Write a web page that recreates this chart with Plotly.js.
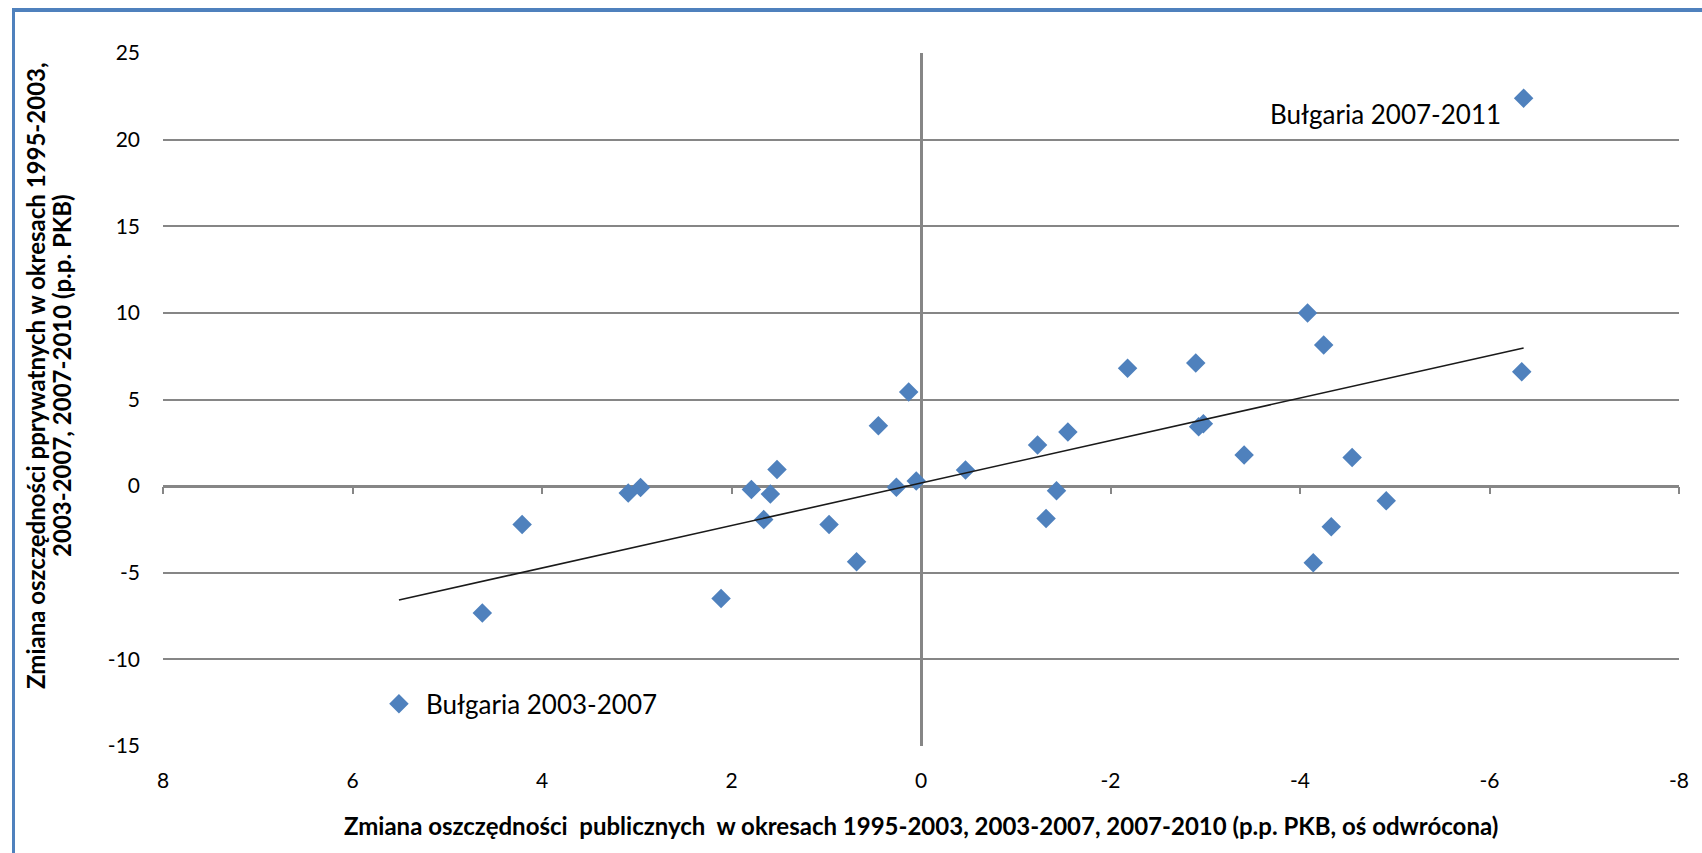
<!DOCTYPE html>
<html>
<head>
<meta charset="utf-8">
<script src="https://cdn.plot.ly/plotly-3.0.1.min.js"></script>
<style>
  html, body { margin: 0; padding: 0; background: #ffffff; }
  #wrap { position: relative; width: 1702px; height: 853px; overflow: hidden; }
  #chart { position: absolute; left: 0; top: 0; width: 1702px; height: 853px; }
  #frame { position: absolute; left: 12px; top: 8px; width: 1800px; height: 1000px;
           border-top: 4px solid #4F81BD; border-left: 3px solid #4F81BD; pointer-events: none; }
</style>
</head>
<body>
<div id="wrap">
  <div id="chart"></div>
  <div id="frame"></div>
</div>
<script>
// Change in public savings (p.p. GDP, reversed axis) and private savings (p.p. GDP)
const countryX = [-4.08, -4.25, -2.90, -2.18, -6.34, 0.13, 0.45, -2.98, -2.93, -1.55,
                  -1.23, -3.41, -4.55, 1.52, -0.47, 0.05, 0.26, 2.96, 3.09, 1.79,
                  1.59, -1.43, -4.91, 4.21, 0.97, -4.33, -1.32, 1.66, 0.68, -4.14,
                  2.11, 4.63];
const countryY = [10.00, 8.14, 7.10, 6.80, 6.60, 5.43, 3.48, 3.60, 3.42, 3.13,
                  2.37, 1.79, 1.65, 0.96, 0.93, 0.30, -0.06, -0.08, -0.39, -0.19,
                  -0.46, -0.27, -0.85, -2.21, -2.21, -2.35, -1.87, -1.92, -4.36, -4.42,
                  -6.48, -7.32];

const bulgariaLabels = ["Bułgaria 2007-2011", "Bułgaria 2003-2007"];
const bulgariaX = [-6.36, 5.51];
const bulgariaY = [22.39, -12.56];

const xTickVals = [8, 6, 4, 2, 0, -2, -4, -6, -8];
const yTickVals = [25, 20, 15, 10, 5, 0, -5, -10, -15];

const xTitle = "Zmiana oszczędności\u00a0 publicznych\u00a0 w okresach 1995-2003, 2003-2007, 2007-2010 (p.p. PKB, oś odwrócona)";
const yTitleLines = ["Zmiana oszczędności pprywatnych w okresach 1995-2003,",
                     "2003-2007, 2007-2010 (p.p. PKB)"];

// Linear trend (least squares) over all points
const allX = countryX.concat(bulgariaX);
const allY = countryY.concat(bulgariaY);
const n = allX.length;
const mx = allX.reduce((a, b) => a + b, 0) / n;
const my = allY.reduce((a, b) => a + b, 0) / n;
let sxx = 0, sxy = 0;
for (let i = 0; i < n; i++) { sxx += (allX[i] - mx) ** 2; sxy += (allX[i] - mx) * (allY[i] - my); }
const slope = sxy / sxx;
const intercept = my - slope * mx;
const xMin = Math.min(...allX), xMax = Math.max(...allX);
const trendX = [xMax, xMin];
const trendY = trendX.map(v => intercept + slope * v);

const blue = "#4F81BD";
const grid = "#868686";
const fontFam = "Lato, 'Open Sans', sans-serif";

const xRange = [8, -8];
const yRange = [-15, 25];
const zeroPos = (0 - yRange[0]) / (yRange[1] - yRange[0]);

const traces = [
  { type: "scatter", mode: "markers", x: countryX, y: countryY, xaxis: "x", yaxis: "y",
    marker: { symbol: "diamond", size: 15, color: blue }, hoverinfo: "x+y" },
  { type: "scatter", mode: "markers", x: bulgariaX, y: bulgariaY, xaxis: "x", yaxis: "y",
    marker: { symbol: "diamond", size: 15, color: blue }, text: bulgariaLabels, hoverinfo: "text" },
  { type: "scatter", mode: "lines", x: trendX, y: trendY, xaxis: "x2", yaxis: "y",
    line: { color: "#1a1a1a", width: 1.6 }, hoverinfo: "skip" }
];

const layout = {
  width: 1702, height: 853,
  margin: { l: 163, r: 23, t: 53, b: 107 },
  paper_bgcolor: "#ffffff", plot_bgcolor: "#ffffff",
  showlegend: false,
  font: { family: fontFam, color: "#000000", size: 21 },
  xaxis: {
    range: xRange, tickvals: xTickVals, ticktext: xTickVals.map(String),
    showgrid: false, zeroline: true, zerolinecolor: grid, zerolinewidth: 2.5,
    showline: false, ticks: "", ticklabelstandoff: 20,
    tickfont: { family: fontFam, size: 21, color: "#000" }
  },
  xaxis2: {
    range: xRange, overlaying: "x", anchor: "free", position: zeroPos,
    tickvals: xTickVals, showticklabels: false, ticks: "outside", ticklen: 7,
    tickwidth: 2, tickcolor: grid, showgrid: false, zeroline: false, showline: false
  },
  yaxis: {
    range: yRange, tickvals: yTickVals, ticktext: yTickVals.map(String),
    showgrid: true, gridcolor: grid, gridwidth: 2,
    zeroline: true, zerolinecolor: grid, zerolinewidth: 2.5,
    showline: false, ticks: "", ticklabelstandoff: 22,
    tickfont: { family: fontFam, size: 21, color: "#000" }
  },
  annotations: [
    { xref: "paper", yref: "paper", x: 0.5, y: -0.114, xanchor: "center", yanchor: "middle",
      text: "<b>" + xTitle + "</b>", showarrow: false,
      font: { family: fontFam, size: 24, color: "#000" } },
    { xref: "paper", yref: "paper", x: 0, y: 0.534, xshift: -127, xanchor: "center", yanchor: "middle",
      text: "<b>" + yTitleLines[0] + "</b>", textangle: -90, showarrow: false,
      font: { family: fontFam, size: 24, color: "#000" } },
    { xref: "paper", yref: "paper", x: 0, y: 0.534, xshift: -101, xanchor: "center", yanchor: "middle",
      text: "<b>" + yTitleLines[1] + "</b>", textangle: -90, showarrow: false,
      font: { family: fontFam, size: 24, color: "#000" } },
    { xref: "x", yref: "y", x: bulgariaX[0], y: bulgariaY[0], xanchor: "right", yanchor: "middle",
      xshift: -21, yshift: -16, text: bulgariaLabels[0], showarrow: false,
      font: { family: fontFam, size: 26, color: "#000" } },
    { xref: "x", yref: "y", x: bulgariaX[1], y: bulgariaY[1], xanchor: "left", yanchor: "middle",
      xshift: 25, yshift: 0, text: bulgariaLabels[1], showarrow: false,
      font: { family: fontFam, size: 26, color: "#000" } }
  ]
};

Plotly.newPlot("chart", traces, layout, { displayModeBar: false, responsive: false });
</script>
</body>
</html>
